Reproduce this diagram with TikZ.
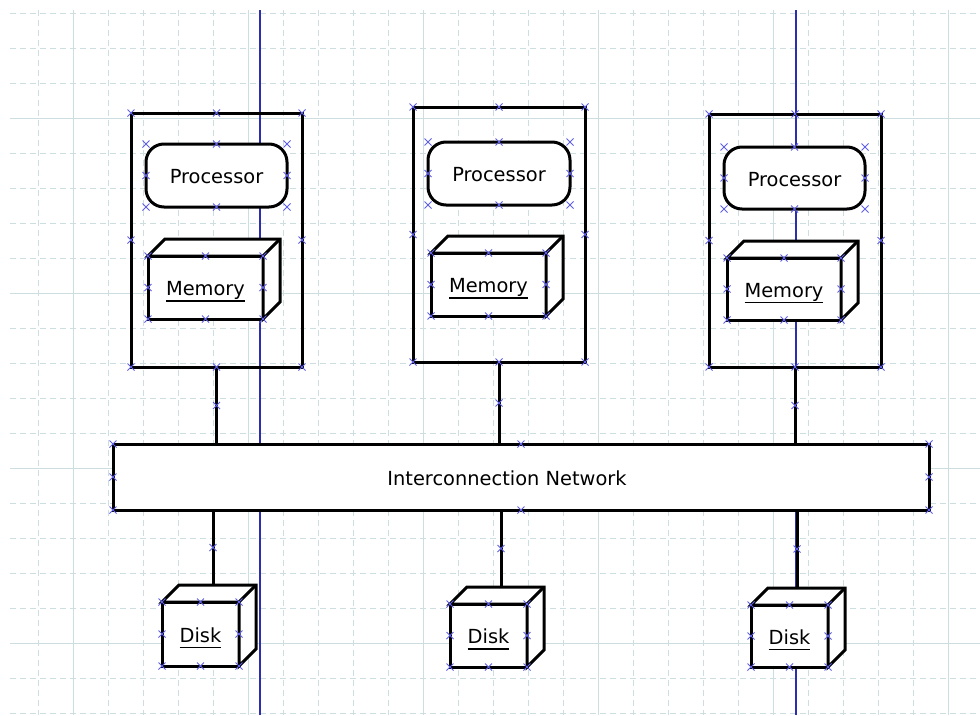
\documentclass[tikz,border=0pt]{standalone}
\usepackage{fontspec}
\setmainfont{DejaVu Sans}
\usetikzlibrary{calc,shapes.misc}
\definecolor{gridcol}{RGB}{205,222,224}
\definecolor{guidecol}{RGB}{45,45,175}
\definecolor{handlecol}{RGB}{95,95,235}
\def\cubeback(#1){\draw[line width=3pt, fill=white, line join=miter] (#1.north west) -- ++(17,-17) -- ($(#1.north east)+(17,-17)$) -- ($(#1.south east)+(17,-17)$) -- (#1.south east) -- (#1.north east) -- cycle; \draw[line width=3pt] (#1.north east) -- ++(17,-17);}
\newcommand\uline[1]{\vtop{\hbox{\vphantom{y}#1}\kern0.6pt\hrule height 1.6pt}}
\tikzset{
	outer/.style={draw, line width=3pt, outer sep=0pt, inner sep=0pt, line join=miter},
	proc/.style={outer, fill=white, rounded corners=18pt},
	memface/.style={outer, fill=white},
	wire/.style={line width=3pt},
	handle/.style={cross out, draw=handlecol, line width=1pt, minimum size=7pt, inner sep=0pt, outer sep=0pt},
	txt/.style={font=\fontsize{19.4}{23}\selectfont, text=black, text height=16pt, text depth=0pt}
}

\begin{document}
\begin{tikzpicture}[x=1pt, y=-1pt]
			%%%%% START %%%%%
			
			\useasboundingbox (0,0) rectangle (980,715);
			\fill[white] (0,0) rectangle (980,715);
			
			% grid
			\foreach \x in {38,73,...,948} \draw[gridcol, line width=1pt, dash pattern=on 6pt off 4pt] (\x,10) -- (\x,715);
			\foreach \y in {13,48,...,713} \draw[gridcol, line width=1pt, dash pattern=on 6pt off 4pt] (10,\y) -- (980,\y);
			\foreach \x in {73,248,...,948} \draw[gridcol, line width=1pt] (\x,10) -- (\x,715);
			\foreach \y in {118,293,468,643} \draw[gridcol, line width=1pt] (10,\y) -- (980,\y);
			
			% guides
			\draw[guidecol, line width=1.2pt] (260,10) -- (260,715);
			\draw[guidecol, line width=1.2pt] (796,10) -- (796,715);
			
			% nodes
			\node[outer, minimum width=171pt, minimum height=254pt] (box1) at (216.5,240) {};
			\node[outer, minimum width=172pt, minimum height=255pt] (box2) at (499,234.5) {};
			\node[outer, minimum width=172pt, minimum height=253pt] (box3) at (795,240.5) {};
			
			\node[outer, fill=white, minimum width=816pt, minimum height=66pt, label={[txt, xshift=-14pt]center:Interconnection Network}] (net) at (521,477) {};
			
			\coordinate (top1) at (213,585);
			\coordinate (top2) at (501,587);
			\coordinate (top3) at (797,588);
			
			\draw[wire] (box1.south) -- node[handle] {} (box1.south |- net.north);
			\draw[wire] (box2.south) -- node[handle] {} (box2.south |- net.north);
			\draw[wire] (box3.south) -- node[handle] {} (box3.south |- net.north);
			\draw[wire] (net.south -| top1) -- node[handle] {} (top1);
			\draw[wire] (net.south -| top2) -- node[handle] {} (top2);
			\draw[wire] (net.south -| top3) -- node[handle] {} (top3);
			
			\node[proc, txt, minimum width=141pt, minimum height=63pt] (proc1) at (216.5,175.5) {Processor};
			\node[proc, txt, minimum width=142pt, minimum height=63pt] (proc2) at (499,173.5) {Processor};
			\node[proc, txt, minimum width=141pt, minimum height=62pt] (proc3) at (794.5,178) {Processor};
			
			\node[memface, txt, minimum width=115pt, minimum height=63pt] (mem1) at (205.5,287.5) {\uline{Memory}};
			\cubeback(mem1)
			\node[memface, txt, minimum width=115pt, minimum height=63pt] (mem2) at (488.5,284.5) {\uline{Memory}};
			\cubeback(mem2)
			\node[memface, txt, minimum width=114pt, minimum height=62pt] (mem3) at (784,289) {\uline{Memory}};
			\cubeback(mem3)
			
			\node[memface, txt, minimum width=77pt, minimum height=64pt] (disk1) at (200.5,634) {\uline{Disk}};
			\cubeback(disk1)
			\node[memface, txt, minimum width=77pt, minimum height=63pt] (disk2) at (488.5,635.5) {\uline{Disk}};
			\cubeback(disk2)
			\node[memface, txt, minimum width=77pt, minimum height=62pt] (disk3) at (789.5,636) {\uline{Disk}};
			\cubeback(disk3)
			
			% handles
			\foreach \n in {box1,box2,box3,proc1,proc2,proc3,mem1,mem2,mem3,disk1,disk2,disk3,net}
				\foreach \a in {north west,north,north east,east,south east,south,south west,west}
					\node[handle] at (\n.\a) {};
			
			%%%%% END %%%%%
		\end{tikzpicture}
\end{document}
